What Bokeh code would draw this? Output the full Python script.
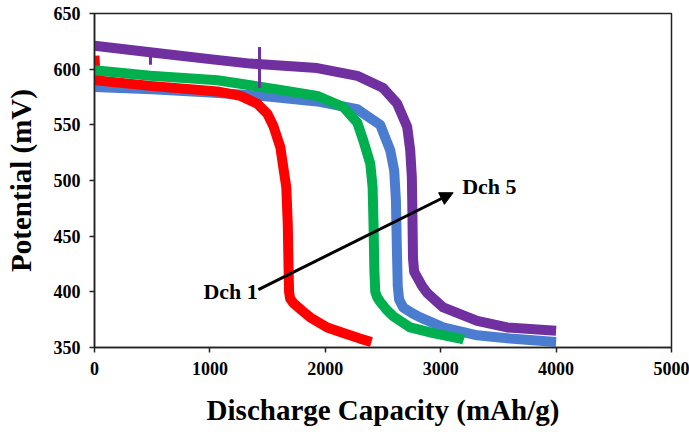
from bokeh.plotting import figure
from bokeh.models import Range1d, Label, Arrow, NormalHead, FixedTicker
from bokeh.embed import file_html
from bokeh.resources import INLINE

# Data (capacity mAh/g, potential mV)
red_x = [0, 10, 485, 1065, 1264, 1411, 1498, 1550, 1610, 1636, 1662, 1675, 1682, 1686, 1695, 1723, 1800, 1870, 2017, 2156, 2300, 2400]
red_y = [612, 590, 585, 580, 576, 569, 560, 549, 530, 512, 494, 460, 420, 400, 394, 390, 383, 377, 368, 363, 358, 355]

blue_x = [0, 500, 1000, 1437, 1930, 2277, 2476, 2563, 2597, 2612, 2620, 2628, 2640, 2675, 2750, 2822, 3022, 3316, 3600, 4000]
blue_y = [584, 582, 579, 576, 571, 564, 550, 527, 509, 482, 440, 405, 393, 386, 381, 377, 368, 361, 358, 355]

green_x = [0, 485, 1065, 1638, 1930, 2156, 2277, 2329, 2390, 2410, 2418, 2425, 2433, 2450, 2476, 2530, 2590, 2736, 2935, 3170, 3200]
green_y = [599, 594, 590, 581, 576, 566, 552, 536, 515, 494, 460, 420, 400, 395, 391, 384, 378, 368, 363, 358, 357]

purple_x = [0, 500, 1000, 1351, 1930, 2277, 2502, 2623, 2710, 2736, 2750, 2755, 2760, 2770, 2797, 2840, 2883, 3022, 3316, 3576, 4000]
purple_y = [621, 615, 609, 605, 601, 594, 583, 569, 548, 527, 503, 470, 430, 418, 413, 405, 399, 386, 374, 368, 365]

# narrow glitches on the purple trace
glitch_x = [[485, 485], [1430, 1430]]
glitch_y = [[616, 604], [583, 620]]

x_ticks = [0, 1000, 2000, 3000, 4000, 5000]
y_ticks = [350, 400, 450, 500, 550, 600, 650]

FONT = "Liberation Serif"

p = figure(width=689, height=432, output_backend="svg", toolbar_location=None,
           x_range=Range1d(0, 5000), y_range=Range1d(350, 650),
           min_border_left=94, min_border_right=18, min_border_top=13, min_border_bottom=85)
p.grid.visible = False
p.outline_line_color = "#222222"
p.outline_line_width = 1.5

# drawing order as in the reference: blue underneath, then red, green, purple
for xs, ys, c in [(blue_x, blue_y, "#4A7CCF"), (red_x, red_y, "#FF0000"),
                  (green_x, green_y, "#00B04F"), (purple_x, purple_y, "#7030A0")]:
    p.line(xs, ys, line_color=c, line_width=10, line_join="round", line_cap="butt")
p.multi_line(glitch_x, glitch_y, line_color="#7030A0", line_width=3)

for ax in (p.xaxis[0], p.yaxis[0]):
    ax.major_label_text_font = FONT
    ax.major_label_text_font_style = "bold"
    ax.major_label_text_font_size = "18px"
    ax.major_label_text_color = "black"
    ax.axis_line_color = "#222222"
    ax.axis_line_width = 1.5
    ax.major_tick_line_color = "#222222"
    ax.major_tick_line_width = 1.5
    ax.major_tick_in = 0
    ax.major_tick_out = 5
    ax.minor_tick_line_color = None
    ax.axis_label_text_font = FONT
    ax.axis_label_text_font_style = "bold"
    ax.axis_label_text_font_size = "29px"
    ax.axis_label_text_color = "black"

p.xaxis.ticker = FixedTicker(ticks=x_ticks)
p.yaxis.ticker = FixedTicker(ticks=y_ticks)
p.xaxis.major_label_standoff = 9
p.yaxis.major_label_standoff = 9
p.xaxis.axis_label = "Discharge Capacity (mAh/g)"
p.yaxis.axis_label = "Potential (mV)"
p.xaxis.axis_label_standoff = 16
p.yaxis.axis_label_standoff = 14

p.add_layout(Arrow(end=NormalHead(size=13, fill_color="black", line_color="black"),
                   x_start=1420, y_start=402, x_end=3108, y_end=489,
                   line_color="black", line_width=3))
p.add_layout(Label(x=1415, y=400, text="Dch 1", text_font=FONT, text_font_style="bold",
                   text_font_size="22px", text_color="black",
                   text_align="right", text_baseline="middle"))
p.add_layout(Label(x=3186, y=495, text="Dch 5", text_font=FONT, text_font_style="bold",
                   text_font_size="22px", text_color="black",
                   text_align="left", text_baseline="middle"))

open("out.html", "w").write(file_html(p, INLINE))
